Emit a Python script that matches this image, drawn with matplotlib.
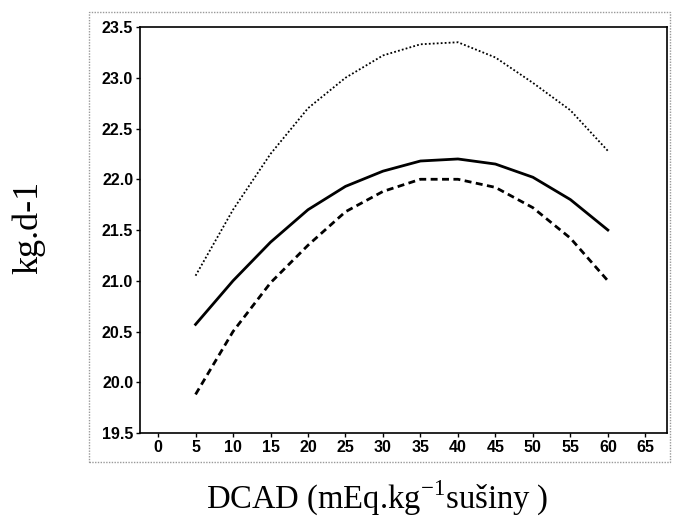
import matplotlib.pyplot as plt
from matplotlib.patches import Rectangle

# DCAD levels (mEq/kg DM)
dcad = [5, 10, 15, 20, 25, 30, 35, 40, 45, 50, 55, 60]

# intake curves, kg/d
solid = [20.57, 21.0, 21.38, 21.7, 21.93, 22.08, 22.18, 22.2, 22.15, 22.02, 21.8, 21.5]
dashed = [19.88, 20.5, 20.98, 21.35, 21.68, 21.88, 22.0, 22.0, 21.92, 21.72, 21.42, 21.0]
dotted = [21.05, 21.7, 22.25, 22.7, 23.0, 23.22, 23.33, 23.35, 23.2, 22.95, 22.68, 22.28]

xticks = list(range(0, 70, 5))
yticks = [19.5, 20.0, 20.5, 21.0, 21.5, 22.0, 22.5, 23.0, 23.5]

fig = plt.figure(figsize=(6.8, 5.3), dpi=100)
ax = fig.add_axes([0.206, 0.183, 0.775, 0.766])

ax.plot(dcad, solid, color='black', lw=2.0)
ax.plot(dcad, dashed, color='black', lw=2.0, linestyle=(0, (2.5, 1.6)))
ax.plot(dcad, dotted, color='black', lw=1.3, linestyle=(0, (1, 1.2)))

ax.set_xlim(-2.4, 67.9)
ax.set_ylim(19.5, 23.5)
ax.set_xticks(xticks)
ax.set_yticks(yticks)
ax.set_yticklabels([f"{v:.1f}" for v in yticks])

for sp in ax.spines.values():
    sp.set_linewidth(1.2)
ax.tick_params(direction='out', length=3, width=1, pad=2)
for lab in ax.get_xticklabels() + ax.get_yticklabels():
    lab.set_fontfamily('Liberation Sans')
    lab.set_fontsize(11.5)
    lab.set_fontweight('bold')

# dotted frame around the plot
fig.patches.append(Rectangle((89 / 680, (530 - 462) / 530), (670 - 89) / 680, (462 - 12) / 530,
                             transform=fig.transFigure, fill=False, edgecolor='#999999',
                             linestyle=(0, (1, 1)), lw=1.0))

fig.text(0.042, 0.57, "kg.d-1", rotation=90, ha='center', va='center',
         family='Liberation Serif', fontsize=26)
fig.text(0.555, 0.06, "DCAD (mEq.kg$^{\\mathregular{-1}}$sušiny )", ha='center', va='center',
         family='Liberation Serif', fontsize=23.5)

fig.savefig('out.png', dpi=100)
